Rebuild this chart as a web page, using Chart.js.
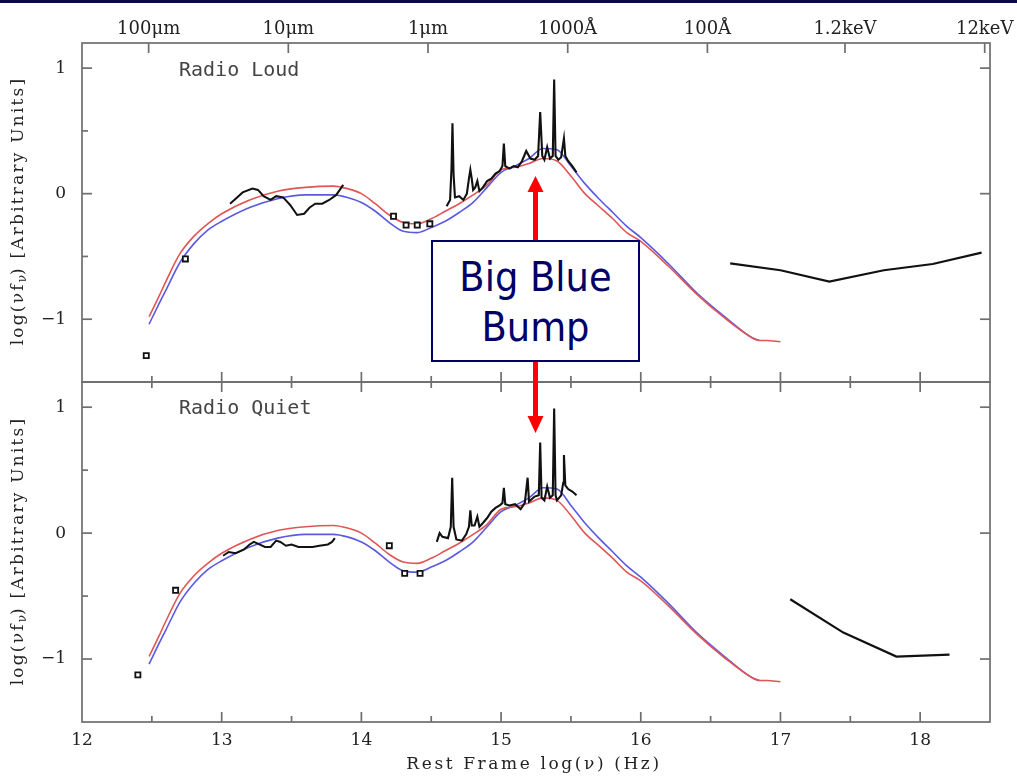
<!DOCTYPE html>
<html>
<head>
<meta charset="utf-8">
<script src="https://cdn.jsdelivr.net/npm/chart.js@4.4.1/dist/chart.umd.min.js"></script>
<style>
  html, body { margin: 0; padding: 0; background: #fff; }
  #wrap { position: relative; width: 1017px; height: 778px; overflow: hidden; }
  canvas { position: absolute; left: 0; top: 0; }
  .band { position: absolute; left: 0; top: 0; width: 1017px; height: 3px; background: #0a0a48; }
  .panelName { position: absolute; font: 20px "DejaVu Sans Mono", monospace; color: #444; white-space: pre; }
  .axTitle { position: absolute; font: 17px "DejaVu Serif", "Liberation Serif", serif; color: #222;
             letter-spacing: 2.2px; white-space: nowrap; transform: translate(-50%, -50%); }
  .axTitle.rot { transform: translate(-50%, -50%) rotate(-90deg); }
  .axTitle.wide { letter-spacing: 2.6px; }
  .axTitle sub { font-size: 12px; vertical-align: -3px; letter-spacing: 0; }
  .bbb { position: absolute; left: 431px; top: 240px; width: 209px; height: 122px; border: 2px solid #000066;
         box-sizing: border-box; padding-top: 10px;
         background: #fff; color: #000066; font: 41px "DejaVu Sans Condensed", "Liberation Sans", sans-serif;
         text-align: center; line-height: 50px; }
  svg { position: absolute; left: 0; top: 0; }
</style>
</head>
<body>
<div id="wrap">
  <canvas id="topChart" width="1017" height="778"></canvas>
  <canvas id="botChart" width="1017" height="778"></canvas>
  <div class="band"></div>
  <div class="panelName" style="left:179px;top:57px;">Radio Loud</div>
  <div class="panelName" style="left:179px;top:395px;">Radio Quiet</div>
  <div class="axTitle rot" style="left:18px;top:211px;">log(&nu;f<sub>&nu;</sub>) [Arbitrary Units]</div>
  <div class="axTitle rot" style="left:18px;top:551px;">log(&nu;f<sub>&nu;</sub>) [Arbitrary Units]</div>
  <div class="axTitle wide" style="left:534px;top:763px;">Rest Frame log(&nu;) (Hz)</div>
  <svg width="1017" height="778">
    <rect x="533" y="190" width="5" height="52" fill="#ff0000"/>
    <polygon points="535.5,176 527.5,192 543.5,192" fill="#ff0000"/>
    <rect x="533" y="360" width="5" height="58" fill="#ff0000"/>
    <polygon points="535.5,433 527.5,416 543.5,416" fill="#ff0000"/>
  </svg>
  <div class="bbb">Big Blue<br>Bump</div>
</div>
<script>
// axis ticks
const xTickVals = [12, 12.5, 13, 13.5, 14, 14.5, 15, 15.5, 16, 16.5, 17, 17.5, 18];
const yTickVals = [-1.5, -1, -0.5, 0, 0.5, 1];
const waveTickVals = [12.477, 13.477, 14.477, 15.477, 16.477, 17.462, 18.462];
const waveTickLabels = ["100\u03bcm", "10\u03bcm", "1\u03bcm", "1000\u00c5", "100\u00c5", "1.2keV", "12keV"];

// mean SED templates (same in both panels)
const tplNu = [12.48,12.55,12.6,12.7,12.8,12.9,13.0,13.2,13.4,13.6,13.8,13.9,14.0,14.1,14.2,14.3,14.4,14.5,14.6,14.7,
  14.8,14.9,15.0,15.1,15.2,15.3,15.4,15.5,15.6,15.7,15.8,15.9,16.0,16.2,16.4,16.6,16.8,16.85,16.9,17.0];
const tplRed = [-0.98,-0.82,-0.70,-0.48,-0.34,-0.24,-0.16,-0.05,0.02,0.05,0.06,0.04,0.0,-0.08,-0.17,-0.23,-0.24,-0.20,-0.14,-0.08,
  -0.01,0.07,0.19,0.21,0.24,0.28,0.26,0.14,0.0,-0.10,-0.20,-0.31,-0.38,-0.58,-0.80,-0.99,-1.15,-1.17,-1.17,-1.18];
const tplBlue = [-1.04,-0.88,-0.77,-0.55,-0.40,-0.29,-0.22,-0.11,-0.04,-0.01,-0.01,-0.03,-0.07,-0.14,-0.23,-0.30,-0.31,-0.27,-0.22,-0.15,
  -0.07,0.05,0.17,0.22,0.28,0.36,0.35,0.22,0.08,-0.04,-0.15,-0.26,-0.35,-0.56,-0.79,-0.98,-1.15,-1.17];

// radio loud observed spectra
const loudIrNu = [13.06,13.10,13.15,13.22,13.26,13.30,13.35,13.39,13.44,13.49,13.54,13.59,13.63,13.67,13.72,13.77,13.82,13.87];
const loudIrLog = [-0.08,-0.04,0.01,0.04,0.03,-0.02,-0.05,-0.02,-0.03,-0.09,-0.17,-0.16,-0.11,-0.08,-0.08,-0.05,-0.01,0.07];
const loudUvNu = [14.61,14.635,14.645,14.652,14.66,14.67,14.70,14.73,14.755,14.77,14.78,14.79,14.80,14.815,14.83,14.845,14.87,14.90,
  14.93,14.96,14.99,15.01,15.02,15.03,15.06,15.09,15.12,15.15,15.18,15.21,15.24,15.265,15.28,15.295,15.31,15.33,15.35,15.37,
  15.38,15.39,15.41,15.43,15.45,15.46,15.48,15.51,15.54];
const loudUvLog = [-0.10,-0.05,0.20,0.56,0.15,-0.03,-0.02,-0.05,0.00,0.12,0.19,0.12,0.03,0.05,0.10,0.02,0.05,0.10,
  0.12,0.16,0.18,0.22,0.40,0.22,0.20,0.22,0.21,0.26,0.34,0.28,0.27,0.30,0.65,0.30,0.27,0.37,0.28,0.30,
  0.91,0.30,0.27,0.29,0.44,0.30,0.26,0.22,0.17];
const loudXrNu = [16.64, 17.0, 17.35, 17.74, 18.09, 18.44];
const loudXrLog = [-0.555, -0.61, -0.70, -0.61, -0.56, -0.47];
const loudPtsNu = [12.46, 12.74, 14.23, 14.32, 14.40, 14.49];
const loudPtsLog = [-1.29, -0.52, -0.18, -0.25, -0.25, -0.24];

// radio quiet observed spectra
const quietIrNu = [13.01,13.05,13.10,13.16,13.20,13.23,13.27,13.31,13.35,13.39,13.42,13.46,13.50,13.55,13.60,13.65,13.70,13.76,13.79,13.81];
const quietIrLog = [-0.18,-0.15,-0.16,-0.13,-0.09,-0.07,-0.09,-0.11,-0.11,-0.06,-0.07,-0.10,-0.09,-0.11,-0.11,-0.11,-0.10,-0.09,-0.07,-0.04];
const quietUvNu = [14.54,14.56,14.58,14.62,14.64,14.65,14.66,14.68,14.72,14.75,14.77,14.78,14.79,14.81,14.83,14.845,14.87,14.90,
  14.93,14.96,14.99,15.01,15.02,15.03,15.06,15.10,15.14,15.17,15.19,15.20,15.24,15.27,15.28,15.29,15.31,15.33,15.35,15.37,
  15.38,15.39,15.40,15.43,15.445,15.45,15.46,15.48,15.51,15.54];
const quietUvLog = [-0.07,0.00,-0.03,-0.04,0.05,0.44,0.05,-0.05,-0.06,-0.01,0.05,0.18,0.06,0.06,0.13,0.05,0.08,0.12,
  0.17,0.20,0.22,0.24,0.36,0.23,0.22,0.23,0.19,0.24,0.44,0.25,0.29,0.30,0.72,0.28,0.26,0.37,0.28,0.30,
  0.99,0.30,0.26,0.30,0.40,0.62,0.38,0.35,0.33,0.30];
const quietXrNu = [17.07, 17.45, 17.83, 18.21];
const quietXrLog = [-0.525, -0.79, -0.98, -0.965];
const quietPtsNu = [12.40, 12.67, 14.20, 14.31, 14.42];
const quietPtsLog = [-1.126, -0.454, -0.10, -0.32, -0.32];

const pairs = (xs, ys) => ys.map((v, i) => ({ x: xs[i], y: v }));
const serif = "'DejaVu Serif', 'Liberation Serif', serif";
const axisGray = "#6e6e6e";

/* frame + inward ticks */
const framePlugin = {
  id: "frame",
  afterDatasetsDraw(chart, args, opts) {
    const { ctx, chartArea: a, scales } = chart;
    const x = scales.x, y = scales.y;
    ctx.save();
    ctx.strokeStyle = axisGray;
    ctx.lineWidth = 1.7;
    ctx.strokeRect(a.left, a.top, a.right - a.left, a.bottom - a.top);
    const line = (x1, y1, x2, y2) => { ctx.beginPath(); ctx.moveTo(x1, y1); ctx.lineTo(x2, y2); ctx.stroke(); };
    xTickVals.forEach(v => {
      if (v <= x.min || v >= x.max) return;
      const px = x.getPixelForValue(v);
      const len = Number.isInteger(v) ? 10 : 6;
      line(px, a.bottom, px, a.bottom - len);
      if (!opts.waveTop) line(px, a.top, px, a.top + len);
    });
    if (opts.waveTop) {
      waveTickVals.forEach(v => {
        const px = scales.xTop.getPixelForValue(v);
        line(px, a.top, px, a.top + 10);
      });
    }
    yTickVals.forEach(v => {
      if (v <= y.min || v >= y.max) return;
      const py = y.getPixelForValue(v);
      const len = Number.isInteger(v) ? 10 : 6;
      line(a.left, py, a.left + len, py);
      if (Number.isInteger(v)) line(a.right, py, a.right - 10, py);
    });
    ctx.restore();
  }
};

function panelDatasets(irNu, irLog, uvNu, uvLog, xrNu, xrLog, ptsNu, ptsLog) {
  const black = { borderColor: "#111", borderWidth: 2, pointRadius: 0, showLine: true, tension: 0, fill: false };
  return [
    { label: "points", data: pairs(ptsNu, ptsLog), showLine: false, pointStyle: "rect", pointRadius: 3.6,
      borderColor: "#111", borderWidth: 1.8, backgroundColor: "#fff", order: 0 },
    Object.assign({ label: "IR", data: pairs(irNu, irLog), order: 1 }, black),
    Object.assign({ label: "UV", data: pairs(uvNu, uvLog), order: 1 }, black, { borderWidth: 2.1 }),
    Object.assign({ label: "X-ray", data: pairs(xrNu, xrLog), order: 1 }, black, { borderWidth: 2.2 }),
    { label: "red", data: pairs(tplNu, tplRed), showLine: true, borderColor: "#e05555", borderWidth: 1.6,
      pointRadius: 0, cubicInterpolationMode: "monotone", order: 2 },
    { label: "blue", data: pairs(tplNu, tplBlue), showLine: true, borderColor: "#5a5ae0", borderWidth: 1.6,
      pointRadius: 0, cubicInterpolationMode: "monotone", order: 3 }
  ];
}

function yScale() {
  return {
    type: "linear", min: -1.5, max: 1.2,
    afterBuildTicks: s => { s.ticks = yTickVals.map(v => ({ value: v })); },
    afterFit: s => { s.width = 82; },
    grid: { display: false, drawTicks: false },
    border: { display: false },
    ticks: {
      padding: 16, color: "#222", font: { family: serif, size: 17 },
      callback: v => Number.isInteger(v) ? String(v).replace("-", "\u2212") : ""
    }
  };
}

new Chart(document.getElementById("topChart"), {
  type: "scatter",
  data: { datasets: panelDatasets(loudIrNu, loudIrLog, loudUvNu, loudUvLog, loudXrNu, loudXrLog, loudPtsNu, loudPtsLog) },
  options: {
    responsive: false, animation: false,
    layout: { padding: { left: 0, right: 27, top: 0, bottom: 396 } },
    plugins: { legend: { display: false }, tooltip: { enabled: false }, frame: { waveTop: true } },
    scales: {
      x: { type: "linear", min: 12, max: 18.5, display: false },
      xTop: {
        type: "linear", position: "top", min: 12, max: 18.5,
        afterBuildTicks: s => { s.ticks = waveTickVals.map(v => ({ value: v })); },
        afterFit: s => { s.height = 43; },
        grid: { display: false, drawTicks: false },
        border: { display: false },
        ticks: {
          autoSkip: false, maxRotation: 0, padding: 3, color: "#222", font: { family: serif, size: 18 },
          callback: (v, i) => waveTickLabels[i]
        }
      },
      y: yScale()
    }
  },
  plugins: [framePlugin]
});

new Chart(document.getElementById("botChart"), {
  type: "scatter",
  data: { datasets: panelDatasets(quietIrNu, quietIrLog, quietUvNu, quietUvLog, quietXrNu, quietXrLog, quietPtsNu, quietPtsLog) },
  options: {
    responsive: false, animation: false,
    layout: { padding: { left: 0, right: 27, top: 382, bottom: 0 } },
    plugins: { legend: { display: false }, tooltip: { enabled: false }, frame: { waveTop: false } },
    scales: {
      x: {
        type: "linear", min: 12, max: 18.5,
        afterBuildTicks: s => { s.ticks = xTickVals.map(v => ({ value: v })); },
        afterFit: s => { s.height = 56; },
        grid: { display: false, drawTicks: false },
        border: { display: false },
        ticks: {
          autoSkip: false, maxRotation: 0, padding: 8, color: "#222", font: { family: serif, size: 17 },
          callback: v => Number.isInteger(v) ? String(v) : ""
        }
      },
      y: yScale()
    }
  },
  plugins: [framePlugin]
});
</script>
</body>
</html>
